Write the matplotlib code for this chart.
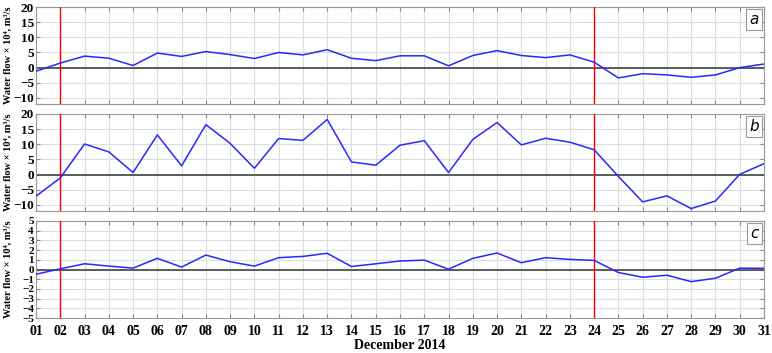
import numpy as np
import matplotlib.pyplot as plt

plt.rcParams['font.family'] = ['Liberation Serif', 'DejaVu Serif']

days = np.arange(1, 32)
day_labels = [f"{d:02d}" for d in days]

# water flow, x 10^4 m^3/s
flow_a = [-1.2, 1.5, 3.8, 3.1, 0.7, 4.8, 3.7, 5.3, 4.3, 3.0,
          5.0, 4.2, 5.9, 3.1, 2.3, 3.9, 3.9, 0.6, 4.0, 5.6,
          4.0, 3.3, 4.2, 1.8, -3.4, -2.0, -2.4, -3.2, -2.4, 0.0, 1.2]
flow_b = [-7.1, -1.1, 10.1, 7.5, 0.7, 13.1, 2.9, 16.5, 10.3, 2.1,
          11.9, 11.3, 18.2, 4.2, 3.1, 9.7, 11.2, 0.7, 11.6, 17.2,
          9.8, 12.0, 10.7, 8.2, -0.6, -9.0, -7.0, -11.2, -8.7, 0.1, 3.6]
flow_c = [-0.49, 0.07, 0.59, 0.35, 0.14, 1.15, 0.25, 1.49, 0.8, 0.35,
          1.22, 1.35, 1.67, 0.31, 0.59, 0.87, 0.97, 0.03, 1.15, 1.7,
          0.7, 1.22, 1.04, 0.94, -0.31, -0.8, -0.59, -1.25, -0.9, 0.14, 0.12]

event_days = [2, 24]

panels = [
    ("a", flow_a, (-12, 20), np.arange(-10, 21, 5), 9.5),
    ("b", flow_b, (-12, 20), np.arange(-10, 21, 5), 9.5),
    ("c", flow_c, (-5, 5), np.arange(-5, 6, 1), 8),
]

fig = plt.figure(figsize=(7.72, 3.53), dpi=100)
left = 36 / 772
width = 728 / 772
tops = [7, 114, 221]
height = 97 / 353

for (tag, vals, ylim, yticks, ysize), top in zip(panels, tops):
    ax = fig.add_axes([left, 1 - (top + 97) / 353, width, height])
    ax.grid(True, color='#dddddd', linewidth=0.8)
    ax.set_axisbelow(True)
    ax.axhline(0, color='#444444', linewidth=1.2, zorder=2)
    for d in event_days:
        ax.axvline(d, color='red', linewidth=1.0, zorder=3)
    ax.plot(days, vals, color='#2828ff', linewidth=1.1, zorder=4)
    ax.set_xlim(1, 31)
    ax.set_ylim(*ylim)
    ax.set_xticks(days)
    ax.set_yticks(yticks)
    ax.tick_params(direction='in', length=3, color='#888888', top=True, right=True)
    ax.tick_params(axis='y', labelsize=ysize, pad=1.5)
    ax.tick_params(axis='x', labelsize=10, pad=5)
    for lab in ax.get_yticklabels():
        lab.set_fontweight('bold')
    if tag == "c":
        ax.set_xticklabels(day_labels, fontweight='bold')
        ax.set_xlabel("December 2014", fontweight='bold', fontsize=10, labelpad=1)
    else:
        ax.set_xticklabels([])
    for s in ax.spines.values():
        s.set_color('#999999')
    ax.set_ylabel("Water flow × 10⁴, m³/s", fontweight='bold', fontsize=7.5)
    ax.yaxis.set_label_coords(-0.032, 0.5)
    ax.text(0.993, 0.95, tag, transform=ax.transAxes, ha='right', va='top',
            fontsize=11, fontstyle='italic', family=['DejaVu Sans'],
            bbox=dict(boxstyle='square,pad=0.2', facecolor='white', edgecolor='#999999', linewidth=0.8))

fig.savefig("out.png", dpi=100)
